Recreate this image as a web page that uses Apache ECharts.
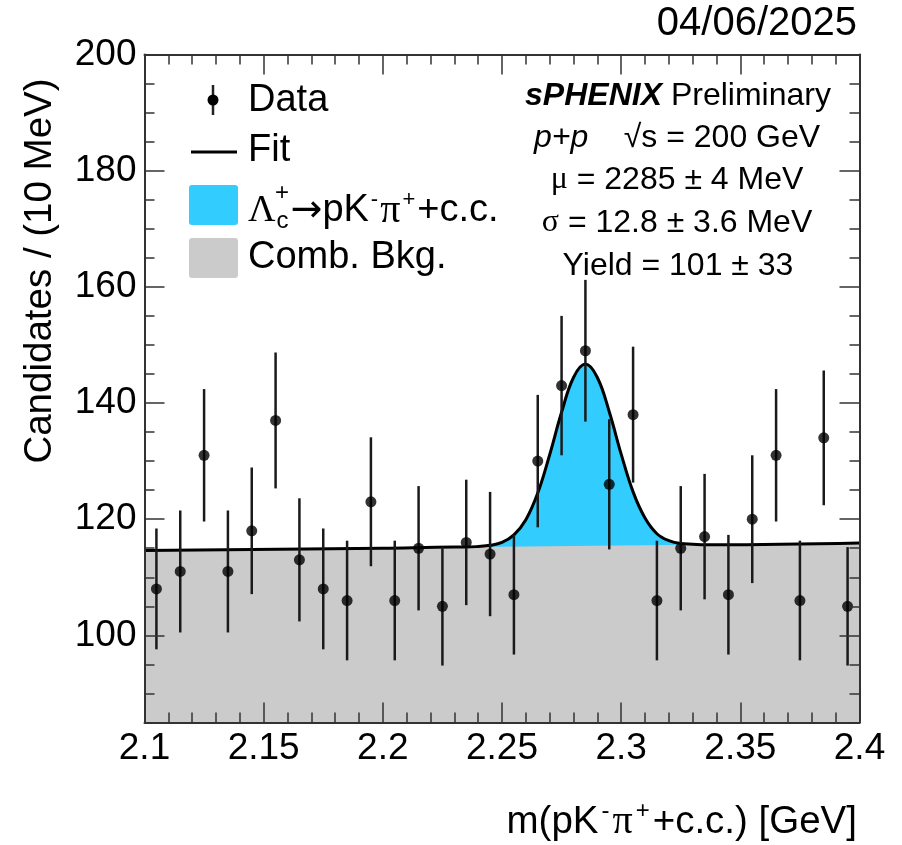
<!DOCTYPE html>
<html>
<head>
<meta charset="utf-8">
<script src="https://cdn.jsdelivr.net/npm/echarts@6/dist/echarts.min.js"></script>
<style>
  html, body { margin: 0; padding: 0; background: #fff; }
  #chart { width: 902px; height: 845px; }
</style>
</head>
<body>
<div id="chart"></div>
<script>
// bin centres (GeV), counts per 10 MeV and their errors
const massBins = [2.105, 2.115, 2.125, 2.135, 2.145, 2.155, 2.165, 2.175, 2.185, 2.195,
  2.205, 2.215, 2.225, 2.235, 2.245, 2.255, 2.265, 2.275, 2.285, 2.295,
  2.305, 2.315, 2.325, 2.335, 2.345, 2.355, 2.365, 2.375, 2.385, 2.395]
const counts = [108, 111, 131, 111, 118, 137, 113, 108, 106, 123,
  106, 115, 105, 116, 114, 107, 130, 143, 149, 126,
  138, 106, 115, 117, 107, 120, 131, 106, 134, 105]
const countErrors = [10.4, 10.5, 11.4, 10.5, 10.9, 11.7, 10.6, 10.4, 10.3, 11.1,
  10.3, 10.7, 10.2, 10.8, 10.7, 10.3, 11.4, 12.0, 12.2, 11.2,
  11.7, 10.3, 10.7, 10.8, 10.3, 11.0, 11.4, 10.3, 11.6, 10.2]

// fit curve
const fitMass = [2.1, 2.2, 2.23, 2.235, 2.24, 2.245, 2.25, 2.255, 2.26, 2.265, 2.27, 2.275,
  2.28, 2.285, 2.29, 2.295, 2.3, 2.305, 2.31, 2.315, 2.32, 2.325, 2.33, 2.335, 2.34, 2.4]
const fitValues = [114.6, 115.0, 115.2, 115.2, 115.3, 115.5, 116.0, 117.3, 119.9, 124.5, 131.1, 138.4,
  144.4, 146.7, 144.4, 138.5, 131.2, 124.7, 120.2, 117.5, 116.3, 115.8, 115.7, 115.6, 115.6, 115.9]

// combinatorial background
const bkgMass = [2.1, 2.4]
const bkgValues = [114.6, 115.9]

const yMajorTicks = [100, 120, 140, 160, 180, 200]
const yMinorTicks = [85, 90, 95, 100, 105, 110, 115, 120, 125, 130, 135, 140, 145, 150,
  155, 160, 165, 170, 175, 180, 185, 190, 195, 200]

const FONT = "'Liberation Sans', Arial, Helvetica, sans-serif"
const SERIF = "'Liberation Serif', 'DejaVu Serif', serif"
const AXIS_COLOR = '#333'
const SIGNAL_COLOR = '#33ccff'
const BKG_COLOR = '#cbcbcb'

const chart = echarts.init( document.getElementById( 'chart' ) )

const xAxisBase = ( position, showLabel ) => ( {
  type : 'value',
  position,
  min : 2.1,
  max : 2.4,
  interval : 0.05,
  z : 10,
  axisLine : { show : true, onZero : false, lineStyle : { color : AXIS_COLOR, width : 2 } },
  axisTick : { show : true, inside : true, length : 20, lineStyle : { color : AXIS_COLOR, width : 1.5 } },
  minorTick : { show : true, splitNumber : 5, length : 10, lineStyle : { color : AXIS_COLOR, width : 1.5 } },
  axisLabel : {
    show : showLabel,
    fontSize : 37,
    fontFamily : FONT,
    color : '#000',
    margin : 8,
    showMinLabel : true,
    showMaxLabel : true
  },
  splitLine : { show : false }
} )

const yAxisBase = ( position, ticks, len, showLabel ) => ( {
  type : 'value',
  position,
  min : 85,
  max : 200,
  z : 10,
  axisLine : { show : showLabel !== null, onZero : false, lineStyle : { color : AXIS_COLOR, width : 2 } },
  axisTick : { show : true, inside : true, length : len, customValues : ticks, lineStyle : { color : AXIS_COLOR, width : 1.5 } },
  axisLabel : {
    show : !!showLabel,
    customValues : yMajorTicks,
    fontSize : 37,
    fontFamily : FONT,
    color : '#000',
    margin : 8
  },
  splitLine : { show : false }
} )

const fitData = fitMass.map( ( m, i ) => [m, fitValues[i]] )

chart.setOption( {
  animation : false,
  backgroundColor : '#fff',
  grid : { left : 144.5, right : 42.5, top : 54.5, bottom : 122.5 },
  xAxis : [xAxisBase( 'bottom', true ), xAxisBase( 'top', false )],
  yAxis : [
    yAxisBase( 'left', yMajorTicks, 20, true ),
    yAxisBase( 'left', yMinorTicks, 10, null ),
    yAxisBase( 'right', yMajorTicks, 20, false ),
    yAxisBase( 'right', yMinorTicks, 10, null )
  ],
  series : [
    {
      name : 'signal',
      type : 'line',
      data : fitData.filter( d => d[0] >= 2.2 && d[0] <= 2.34 ),
      smooth : 0.4,
      showSymbol : false,
      silent : true,
      z : 1,
      lineStyle : { width : 0 },
      areaStyle : { color : SIGNAL_COLOR, opacity : 1, origin : 'start' }
    },
    {
      name : 'bkg',
      type : 'line',
      data : bkgMass.map( ( m, i ) => [m, bkgValues[i]] ),
      showSymbol : false,
      silent : true,
      z : 2,
      lineStyle : { width : 0 },
      areaStyle : { color : BKG_COLOR, opacity : 1, origin : 'start' }
    },
    {
      name : 'fit',
      type : 'line',
      data : fitData,
      smooth : 0.4,
      showSymbol : false,
      silent : true,
      z : 3,
      lineStyle : { color : '#000', width : 3 }
    },
    {
      name : 'errors',
      type : 'custom',
      z : 4,
      silent : true,
      data : massBins.map( ( m, i ) => [m, counts[i], countErrors[i]] ),
      renderItem( params, api ) {
        const lo = api.coord( [api.value( 0 ), api.value( 1 ) - api.value( 2 )] )
        const hi = api.coord( [api.value( 0 ), api.value( 1 ) + api.value( 2 )] )
        return {
          type : 'line',
          shape : { x1 : lo[0], y1 : lo[1], x2 : hi[0], y2 : hi[1] },
          style : { stroke : '#1a1a1a', lineWidth : 2.5 }
        }
      }
    },
    {
      name : 'Data',
      type : 'scatter',
      z : 5,
      silent : true,
      symbolSize : 11,
      itemStyle : { color : '#000' },
      data : massBins.map( ( m, i ) => [m, counts[i]] )
    }
  ],
  graphic : [
    // date
    { type : 'text', x : 857, y : 24, style : { text : '04/06/2025', font : `40px ${FONT}`, fill : '#000', textAlign : 'right', textVerticalAlign : 'middle' } },
    // axis titles
    {
      type : 'text', x : 40, y : 271, rotation : Math.PI / 2,
      style : { text : 'Candidates / (10 MeV)', font : `38.5px ${FONT}`, fill : '#000', textAlign : 'center', textVerticalAlign : 'middle' }
    },
    {
      type : 'text', x : 857, y : 822,
      style : {
        text : 'm(pK{sup|-}{pi|π}{sup|+}+c.c.) [GeV]',
        font : `38.5px ${FONT}`, fill : '#000', textAlign : 'right', textVerticalAlign : 'middle', lineHeight : 46,
        rich : {
          sup : { fontSize : 24, fontFamily : FONT, verticalAlign : 'top', lineHeight : 46, padding : [0, 3, 0, 3] },
          pi : { fontSize : 40, fontFamily : SERIF, lineHeight : 46 }
        }
      }
    },
    // legend
    { type : 'line', shape : { x1 : 213, y1 : 85, x2 : 213, y2 : 115 }, style : { stroke : '#222', lineWidth : 2.5 } },
    { type : 'circle', shape : { cx : 213, cy : 100, r : 5.5 }, style : { fill : '#000' } },
    { type : 'text', x : 248, y : 101, style : { text : 'Data', font : `38px ${FONT}`, fill : '#000', textVerticalAlign : 'middle' } },
    { type : 'line', shape : { x1 : 191, y1 : 152, x2 : 237, y2 : 152 }, style : { stroke : '#000', lineWidth : 3 } },
    { type : 'text', x : 248, y : 151, style : { text : 'Fit', font : `38px ${FONT}`, fill : '#000', textVerticalAlign : 'middle' } },
    { type : 'rect', shape : { x : 189, y : 185, width : 49, height : 40, r : 3 }, style : { fill : SIGNAL_COLOR } },
    {
      type : 'text', x : 248, y : 211,
      style : {
        text : '{L|Λ}{sub|c}{arr|→}{n|pK}{sup|-}{pi|π}{sup|+}{n|+c.c.}',
        font : `38px ${FONT}`, fill : '#000', textVerticalAlign : 'middle', lineHeight : 44,
        rich : {
          L : { fontSize : 38, fontFamily : SERIF, lineHeight : 44 },
          sub : { fontSize : 24, fontFamily : FONT, verticalAlign : 'bottom', lineHeight : 44, padding : [0, 2, 0, 1] },
          arr : { fontSize : 38, fontFamily : "'DejaVu Sans', sans-serif", lineHeight : 44 },
          n : { fontSize : 38, fontFamily : FONT, lineHeight : 44 },
          sup : { fontSize : 22, fontFamily : FONT, verticalAlign : 'top', lineHeight : 44, padding : [0, 2, 0, 2] },
          pi : { fontSize : 40, fontFamily : SERIF, lineHeight : 44 }
        }
      }
    },
    { type : 'text', x : 282, y : 193, style : { text : '+', font : `24px ${FONT}`, fill : '#000', textAlign : 'center', textVerticalAlign : 'middle' } },
    { type : 'rect', shape : { x : 189, y : 238, width : 49, height : 40, r : 3 }, style : { fill : BKG_COLOR } },
    { type : 'text', x : 248, y : 258, style : { text : 'Comb. Bkg.', font : `38px ${FONT}`, fill : '#000', textVerticalAlign : 'middle' } },
    // labels
    {
      type : 'text', x : 678, y : 96,
      style : {
        text : '{b|sPHENIX} Preliminary', font : `32px ${FONT}`, fill : '#000', textAlign : 'center', textVerticalAlign : 'middle',
        rich : { b : { fontSize : 32, fontFamily : FONT, fontWeight : 'bold', fontStyle : 'italic' } }
      }
    },
    {
      type : 'text', x : 677, y : 138,
      style : {
        text : '{i|p+p}    √s = 200 GeV', font : `32px ${FONT}`, fill : '#000', textAlign : 'center', textVerticalAlign : 'middle',
        rich : { i : { fontSize : 32, fontFamily : FONT, fontStyle : 'italic' } }
      }
    },
    {
      type : 'text', x : 677, y : 180,
      style : {
        text : '{g|μ} = 2285 ± 4 MeV', font : `32px ${FONT}`, fill : '#000', textAlign : 'center', textVerticalAlign : 'middle',
        rich : { g : { fontSize : 32, fontFamily : SERIF } }
      }
    },
    {
      type : 'text', x : 677, y : 223,
      style : {
        text : '{g|σ} = 12.8 ± 3.6 MeV', font : `32px ${FONT}`, fill : '#000', textAlign : 'center', textVerticalAlign : 'middle',
        rich : { g : { fontSize : 32, fontFamily : SERIF } }
      }
    },
    { type : 'text', x : 678, y : 266, style : { text : 'Yield = 101 ± 33', font : `32px ${FONT}`, fill : '#000', textAlign : 'center', textVerticalAlign : 'middle' } }
  ]
} )
</script>
</body>
</html>
